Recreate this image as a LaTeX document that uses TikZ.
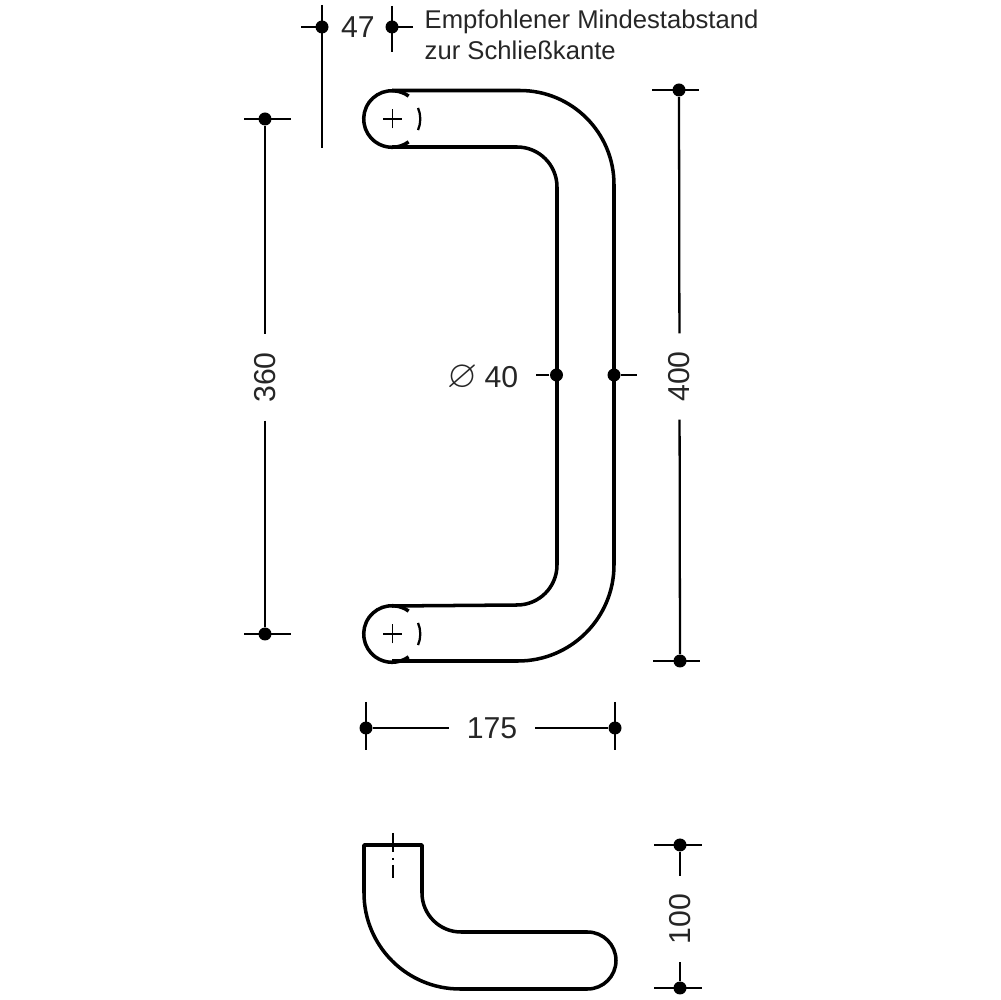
\documentclass[tikz,border=0pt]{standalone}
\usepackage{amssymb}
\usepackage{fontspec}
\setmainfont{Liberation Sans}

\tikzstyle{dimdot} = [circle, fill=black, inner sep=0pt, minimum size=13*0.1mm]
\tikzstyle{dimtext} = [inner sep=0pt, text=black!85, font=\fontsize{8.6}{10}\selectfont]
\tikzstyle{dimgap} = [dimtext, minimum width=85*0.1mm, minimum height=4mm]
\tikzstyle{noteText} = [inner sep=0pt, align=left, text=black!85, font=\fontsize{7.3}{8.9}\selectfont]
\tikzstyle{dimline} = [line width=0.65pt]
\tikzstyle{part} = [line width=1pt, line join=round]
\tikzstyle{thinpart} = [line width=0.5pt]

\begin{document}
\begin{tikzpicture}[x=0.1mm,y=0.1mm]
            \useasboundingbox (0,0) rectangle (1000,1000);
            %
            % We start with the handle, front view
            \draw [part] (392,909.5) -- (520,909.5) arc[start angle=90,end angle=0,radius=94] -- (614,435) arc[start angle=0,end angle=-90,radius=96] -- (392,339);
            \draw [part] (392,853) -- (517,853) arc[start angle=90,end angle=0,radius=40] -- (557,435) arc[start angle=0,end angle=-90,radius=40] -- (392,394);
            % The two fixing points
            \foreach \ypos in {881,366} {
                \draw [part] (392,\ypos) ++(54:28.3) arc[start angle=54,end angle=306,radius=28.3];
                \draw [dimline] (392,\ypos) ++(-23:28.3) arc[start angle=-23,end angle=23,radius=28.3];
                \draw [thinpart] (383,\ypos) -- (402,\ypos) (392.5,\ypos-9.5) -- (392.5,\ypos+9.5);
            }
            %
            % Side view
            \draw [part] (364,155) -- (422,155) -- (422,107) arc[start angle=180,end angle=270,radius=39] -- (587.5,68) arc[start angle=90,end angle=-90,radius=28.5] -- (460,11) arc[start angle=270,end angle=180,radius=96] -- cycle;
            \draw [thinpart] (393,167) -- (393,148);
            \draw [thinpart] (393,142) -- (393,140);
            \draw [thinpart] (393,135) -- (393,122);
            %
            % Dimension 47
            \node [dimdot] (d47a) at (322,973) {};
            \node [dimdot] (d47b) at (392,973) {};
            \node [dimtext] (t47) at (358,973) {47};
            \node [noteText, anchor=west] (note) at (424,965) {Empfohlener Mindestabstand\\zur Schließkante};
            \draw [dimline] (d47a) ++(-21,0) -- ++(21,0) ++(0,22) -- ++(0,-143);
            \draw [dimline] (d47b) ++(21,0) -- ++(-21,0) ++(0,21) -- ++(0,-46);
            %
            % Dimension 360
            \node [dimdot] (d360a) at (265,881) {};
            \node [dimdot] (d360b) at (265,366) {};
            \node [dimgap, rotate=90] (t360) at (265,622.5) {360};
            \draw [dimline] (d360a) -- (t360);
            \draw [dimline] (t360) -- (d360b);
            \draw [dimline] (d360a) ++(-21,0) -- ++(47,0);
            \draw [dimline] (d360b) ++(-21,0) -- ++(47,0);
            %
            % Dimension 400
            \node [dimdot] (d400a) at (679,910) {};
            \node [dimdot] (d400b) at (680,339) {};
            \node [dimgap, rotate=90] (t400) at (679.5,623.5) {400};
            \draw [dimline] (d400a) -- (t400);
            \draw [dimline] (t400) -- (d400b);
            \draw [dimline] (d400a) ++(-27,0) -- ++(47,0);
            \draw [dimline] (d400b) ++(-27,0) -- ++(47,0);
            %
            % Dimension diameter 40
            \node [dimdot] (d40a) at (556.5,625) {};
            \node [dimdot] (d40b) at (614,625) {};
            \node [dimtext, anchor=east] (t40) at (519,622) {{\fontsize{11}{11}\selectfont $\varnothing$}\hspace{2pt}40};
            \draw [dimline] (d40a) -- ++(-21,0);
            \draw [dimline] (d40b) -- ++(23,0);
            %
            % Dimension 175
            \node [dimdot] (d175a) at (366,272) {};
            \node [dimdot] (d175b) at (615,272) {};
            \node [dimgap] (t175) at (492,272) {175};
            \draw [dimline] (d175a) -- (t175);
            \draw [dimline] (t175) -- (d175b);
            \draw [dimline] (d175a) ++(0,26) -- ++(0,-48);
            \draw [dimline] (d175b) ++(0,26) -- ++(0,-48);
            %
            % Dimension 100
            \node [dimdot] (d100a) at (680,155) {};
            \node [dimdot] (d100b) at (680,12) {};
            \node [dimgap, rotate=90] (t100) at (680,81) {100};
            \draw [dimline] (d100a) -- (t100);
            \draw [dimline] (t100) -- (d100b);
            \draw [dimline] (d100a) ++(-26,0) -- ++(48,0);
            \draw [dimline] (d100b) ++(-26,0) -- ++(48,0);
            %
        \end{tikzpicture}
\end{document}
